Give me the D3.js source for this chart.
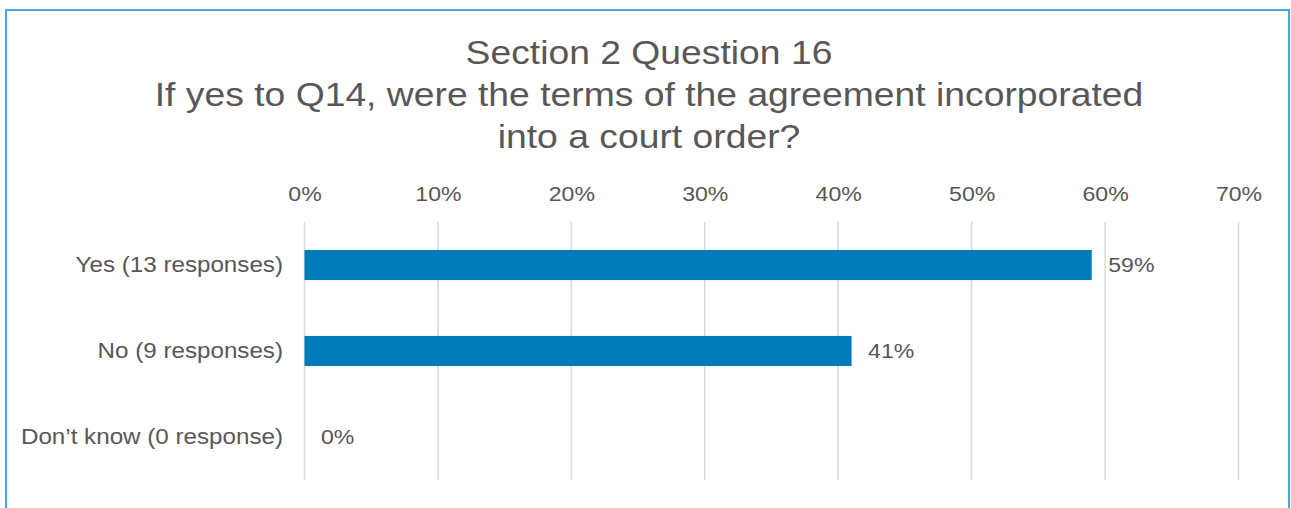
<!DOCTYPE html>
<html>
<head>
<meta charset="utf-8">
<script src="https://cdn.jsdelivr.net/npm/d3@7"></script>
<style>
  html, body { margin: 0; padding: 0; background: #fff; }
  svg { display: block; }
</style>
</head>
<body>
<svg id="chart" width="1291" height="508"></svg>
<script>
// Survey answers, top to bottom
const categories = ["Yes (13 responses)", "No (9 responses)", "Don\u2019t know (0 response)"];
const percentages = [59, 41, 0];
const tickValues = [0, 10, 20, 30, 40, 50, 60, 70];
const titleLines = [
  "Section 2 Question 16",
  "If yes to Q14, were the terms of the agreement incorporated",
  "into a court order?"
];

const svg = d3.select("#chart");
const textColor = "#5a5656";
const font = "'Liberation Sans', Arial, sans-serif";
// Text is drawn slightly wide
const sxTitle = 1.13;
const sxText = 1.1;

// Outer frame
svg.append("rect")
  .attr("x", 6).attr("y", 10)
  .attr("width", 1283).attr("height", 520)
  .attr("fill", "#fff")
  .attr("stroke", "#4aa6dc")
  .attr("stroke-width", 2);

// Title
svg.append("g").selectAll("text")
  .data(titleLines)
  .join("text")
  .attr("transform", (d, i) => `translate(649,${64 + i * 42}) scale(${sxTitle},1)`)
  .attr("text-anchor", "middle")
  .attr("font-family", font)
  .attr("font-size", 33)
  .attr("fill", textColor)
  .text(d => d);

const plot = { left: 304.5, right: 1238.5, top: 222, bottom: 480 };

const x = d3.scaleLinear().domain([0, 70]).range([plot.left, plot.right]);
const y = d3.scaleBand().domain(categories).range([plot.top, plot.bottom]).paddingInner(0.65).paddingOuter(0.325);

// Gridlines
svg.append("g").selectAll("line")
  .data(tickValues)
  .join("line")
  .attr("x1", d => x(d)).attr("x2", d => x(d))
  .attr("y1", plot.top).attr("y2", plot.bottom)
  .attr("stroke", "#d9d9d9")
  .attr("stroke-width", 1.5);

// Top axis labels
const xAxis = d3.axisTop(x).tickValues(tickValues).tickFormat(d => d + "%").tickSize(0).tickPadding(0);
const gx = svg.append("g").attr("transform", `translate(0,${plot.top - 21})`).call(xAxis);
gx.select(".domain").remove();
gx.selectAll("text")
  .attr("transform", `scale(${sxText},1)`)
  .attr("font-family", font)
  .attr("font-size", 21)
  .attr("fill", textColor);

// Category axis labels
const labelGap = 21.5;
const yAxis = d3.axisLeft(y).tickSize(0).tickPadding(labelGap);
const gy = svg.append("g").attr("transform", `translate(${plot.left},0)`).call(yAxis);
gy.select(".domain").remove();
gy.selectAll("text")
  .attr("x", -labelGap / sxText)
  .attr("transform", `scale(${sxText},1)`)
  .attr("font-family", font)
  .attr("font-size", 22)
  .attr("fill", textColor);

// Bars
svg.append("g").selectAll("rect")
  .data(categories)
  .join("rect")
  .attr("x", x(0))
  .attr("y", d => y(d))
  .attr("width", (d, i) => x(percentages[i]) - x(0))
  .attr("height", y.bandwidth())
  .attr("fill", "#007cba");

// Value labels
svg.append("g").selectAll("text")
  .data(categories)
  .join("text")
  .attr("transform", (d, i) => `translate(${x(percentages[i]) + 16.5},${y(d) + y.bandwidth() / 2}) scale(${sxText},1)`)
  .attr("dy", "0.35em")
  .attr("font-family", font)
  .attr("font-size", 21)
  .attr("fill", textColor)
  .text((d, i) => percentages[i] + "%");
</script>
</body>
</html>
